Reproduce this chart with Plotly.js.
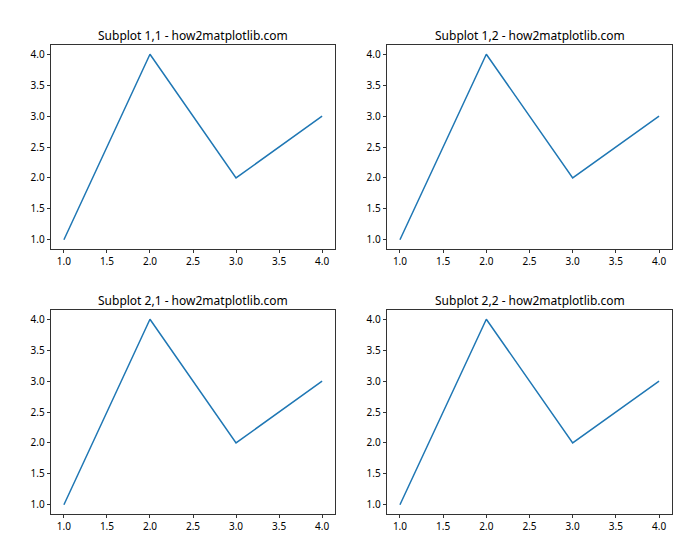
<!DOCTYPE html>
<html>
<head>
<meta charset="utf-8">
<script src="https://cdn.plot.ly/plotly-3.0.1.min.js"></script>
<style>
  body { margin: 0; background: #fff; }
  #plot { width: 700px; height: 560px; }
</style>
</head>
<body>
<div id="plot"></div>
<script>
// same data in every panel
const xVals = [1, 2, 3, 4];
const yVals = [1, 4, 2, 3];
const panelTitles = [
  'Subplot 1,1 - how2matplotlib.com',
  'Subplot 1,2 - how2matplotlib.com',
  'Subplot 2,1 - how2matplotlib.com',
  'Subplot 2,2 - how2matplotlib.com'
];
const tickVals = [1.0, 1.5, 2.0, 2.5, 3.0, 3.5, 4.0];
const tickText = ['1.0', '1.5', '2.0', '2.5', '3.0', '3.5', '4.0'];

const W = 700, H = 560;
const xDomains = [[51 / W, 335 / W], [387 / W, 672 / W]];
const yDomains = [[1 - 249 / H, 1 - 45 / H], [1 - 514 / H, 1 - 310 / H]];

const font = { family: 'Noto Sans, DejaVu Sans, sans-serif', size: 10, color: '#000' };

function axisStyle(domain, anchor) {
  return {
    domain: domain,
    anchor: anchor,
    range: [0.85, 4.15],
    tickmode: 'array',
    tickvals: tickVals,
    ticktext: tickText,
    ticks: 'outside',
    ticklen: 3.5,
    tickwidth: 0.8,
    tickcolor: '#000',
    showline: true,
    mirror: true,
    linecolor: '#000',
    linewidth: 0.8,
    showgrid: false,
    zeroline: false,
    tickfont: font,
    fixedrange: true
  };
}

const data = [];
const layout = {
  width: W,
  height: H,
  margin: { l: 0, r: 0, t: 0, b: 0 },
  paper_bgcolor: '#fff',
  plot_bgcolor: '#fff',
  showlegend: false,
  font: font,
  annotations: []
};

for (let i = 0; i < 4; i++) {
  const row = Math.floor(i / 2), col = i % 2;
  const n = i === 0 ? '' : String(i + 1);
  data.push({
    x: xVals,
    y: yVals,
    xaxis: 'x' + n,
    yaxis: 'y' + n,
    mode: 'lines',
    line: { color: '#1f77b4', width: 1.5 },
    hoverinfo: 'skip'
  });
  layout['xaxis' + n] = axisStyle(xDomains[col], 'y' + n);
  layout['yaxis' + n] = axisStyle(yDomains[row], 'x' + n);
  layout.annotations.push({
    text: panelTitles[i],
    xref: 'paper',
    yref: 'paper',
    x: (xDomains[col][0] + xDomains[col][1]) / 2,
    y: yDomains[row][1] - 1 / H,
    xanchor: 'center',
    yanchor: 'bottom',
    showarrow: false,
    font: { family: font.family, size: 12, color: '#000' }
  });
}

Plotly.newPlot('plot', data, layout, { displayModeBar: false, staticPlot: true });
</script>
</body>
</html>
